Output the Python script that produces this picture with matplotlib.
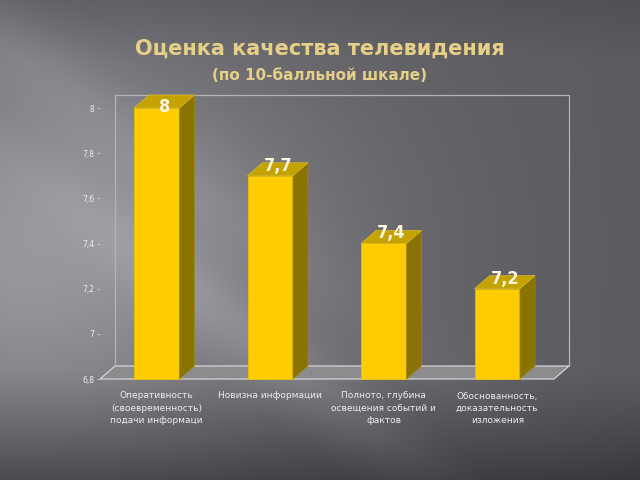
import numpy as np
import matplotlib
matplotlib.use("Agg")
import matplotlib.pyplot as plt
from matplotlib.patches import Polygon

categories = ["Оперативность\n(своевременность)\nподачи информаци",
              "Новизна информации",
              "Полното, глубина\nосвещения событий и\nфактов",
              "Обоснованность,\nдоказательность\nизложения"]
values = [8.0, 7.7, 7.4, 7.2]
value_labels = ["8", "7,7", "7,4", "7,2"]
yticks = [6.8, 7.0, 7.2, 7.4, 7.6, 7.8, 8.0]
ytick_labels = ["6,8", "7", "7,2", "7,4", "7,6", "7,8", "8"]

W, H = 640, 480
fig = plt.figure(figsize=(6.4, 4.8), dpi=100)

# background gradient
yy, xx = np.mgrid[0:H, 0:W].astype(float)
g = 0.385 - 0.03 * (xx / W) ** 2
g += 0.21 * np.exp(-((xx - 30) / 280) ** 2) * np.exp(-((yy - 250) / 190) ** 2)
d1 = (yy - (0.75 * xx + 40)) / 1.25
g += 0.06 * np.exp(-(d1 / 40) ** 2) * np.exp(-xx / 300)
d2 = (yy - (0.75 * xx + 150)) / 1.25
g += 0.07 * np.exp(-(d2 / 35) ** 2) * np.exp(-((xx - 250) / 200) ** 2)
g -= 0.14 * np.clip((yy - 370) / 110, 0, 1) ** 1.2
g -= 0.04 * np.clip((60 - yy) / 60, 0, 1)
g = np.clip(g, 0, 1)
img = np.dstack([g, g, g * 1.02 + 0.012])
bg = fig.add_axes([0, 0, 1, 1])
bg.imshow(np.clip(img, 0, 1), aspect="auto", extent=[0, 1, 0, 1], zorder=0)
bg.axis("off")

left, right = 100 / W, 554 / W
bottom, top = (H - 379) / H, (H - 108) / H
ax = fig.add_axes([left, bottom, right - left, top - bottom])
ax.patch.set_alpha(0)
ax.set_xlim(-0.5, len(values) - 0.5)
ax.set_ylim(6.8, 8.0)
for s in ax.spines.values():
    s.set_visible(False)

# depth offset in data units
fig.canvas.draw()
def px_to_data(dxp, dyp):
    p0 = ax.transData.transform((0, 7.0))
    p1 = ax.transData.inverted().transform(p0 + np.array([dxp, dyp]))
    return p1[0], p1[1] - 7.0
ddx, ddy = px_to_data(15, 13)
_, lab_dy = px_to_data(0, 10)
_, one_px = px_to_data(0, 1)

x0, x1 = -0.5, len(values) - 0.5
ymin, ymax = 6.8, 8.0
edge = "#d4d4d4"
# floor
ax.add_patch(Polygon([(x0, ymin), (x1, ymin), (x1 + ddx, ymin + ddy), (x0 + ddx, ymin + ddy)],
                     closed=True, facecolor="#8c8c8e", edgecolor=edge, lw=0.9,
                     clip_on=False, zorder=1))
# back wall edges
ax.plot([x0 + ddx, x0 + ddx, x1 + ddx, x1 + ddx],
        [ymin + ddy, ymax + ddy, ymax + ddy, ymin + ddy],
        color="#b4b4b6", lw=0.9, clip_on=False, zorder=1)

w = 0.4
xs = np.arange(len(values))
ax.bar(xs, [v - ymin for v in values], bottom=ymin, width=w,
       color="#FFCC00", edgecolor="#e8c000", lw=0.5, zorder=3, clip_on=False)
for x, v, lab in zip(xs, values, value_labels):
    xr = x + w / 2
    xl = x - w / 2
    ax.add_patch(Polygon([(xr, ymin), (xr, v), (xr + ddx, v + ddy), (xr + ddx, ymin + ddy)],
                         closed=True, facecolor="#8a7300", edgecolor="#a08a10", lw=0.5,
                         clip_on=False, zorder=3))
    ax.add_patch(Polygon([(xl, v), (xr, v), (xr + ddx, v + ddy), (xl + ddx, v + ddy)],
                         closed=True, facecolor="#c4a300", edgecolor="#d8bc30", lw=0.5,
                         clip_on=False, zorder=3))
    ly = min(v + lab_dy, ymax + one_px)
    ax.text(x + ddx / 2, ly, lab, ha="center", va="center",
            fontsize=13, fontweight="bold", fontstretch="condensed",
            color="#fbf6dc", zorder=5, family="DejaVu Sans")

ax.set_xticks(xs)
ax.set_xticklabels(categories, fontsize=6.5, color="#ececec", linespacing=1.45)
ax.tick_params(axis="x", length=0, pad=9)
ax.set_yticks(yticks)
ax.set_yticklabels(ytick_labels, fontsize=5.5, color="#eeeeee")
ax.tick_params(axis="y", length=2, width=0.6, color="#d0d0d0", pad=2)

fig.text(0.5, (H - 49) / H, "Оценка качества телевидения", ha="center", va="center",
         fontsize=15, fontweight="bold", color="#e6cf86", family="DejaVu Sans")
fig.text(0.5, (H - 75) / H, "(по 10-балльной шкале)", ha="center", va="center",
         fontsize=11, fontweight="bold", color="#e6cf86", family="DejaVu Sans")

fig.savefig("out.png", dpi=100)
